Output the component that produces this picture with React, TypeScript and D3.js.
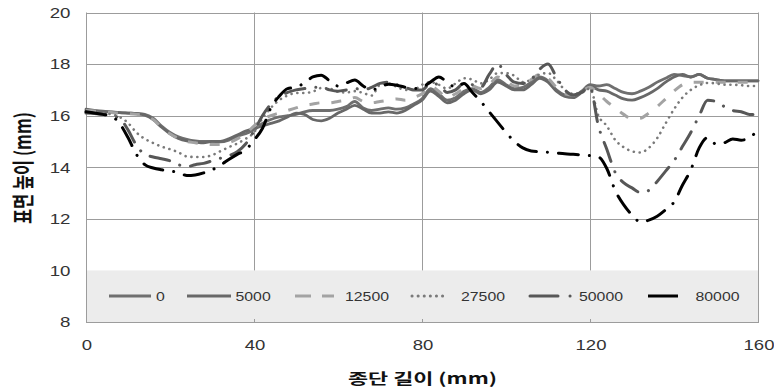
import React from "react";
import * as d3 from "d3";

// 종단 길이 (mm)
const distance = [
  0, 2, 4, 6, 8, 10, 12, 14, 16, 18, 20, 22, 24, 26, 28, 30, 32, 34, 36, 38,
  40, 42, 44, 46, 48, 50, 52, 54, 56, 58, 60, 62, 64, 66, 68, 70, 72, 74, 76, 78,
  80, 82, 84, 86, 88, 90, 92, 94, 96, 98, 100, 102, 104, 106, 108, 110, 112, 114, 116, 118,
  120, 122, 124, 126, 128, 130, 132, 134, 136, 138, 140, 142, 144, 146, 148, 150, 152, 154, 156, 158, 160,
];

// 표면 높이 (mm) per load cycle
const h0 = [
  16.2, 16.18, 16.16, 16.14, 16.12, 16.1, 16.08, 16.05, 15.9, 15.6,
  15.35, 15.18, 15.08, 15.02, 15.0, 15.0, 14.98, 15.05, 15.2, 15.3,
  15.45, 15.7, 15.85, 15.95, 16.0, 16.05, 16.15, 16.2, 16.2, 16.2,
  16.25, 16.35, 16.55, 16.3, 16.2, 16.25, 16.3, 16.25, 16.3, 16.45,
  16.65, 17.05, 16.85, 16.6, 16.7, 16.95, 17.05, 16.9, 17.1, 17.4,
  17.2, 17.05, 17.1, 17.3, 17.5, 17.35, 17.0, 16.8, 16.75, 16.95,
  17.2, 17.15, 17.2, 17.05, 16.9, 16.85, 16.95, 17.1, 17.3, 17.45,
  17.6, 17.55, 17.5, 17.6, 17.45, 17.4, 17.35, 17.35, 17.35, 17.35, 17.35,
];
const h5000 = [
  16.25, 16.2, 16.18, 16.15, 16.12, 16.1, 16.08, 16.02, 15.85, 15.55,
  15.3, 15.12, 15.02, 14.98, 14.95, 15.0, 15.0, 15.1, 15.25, 15.4,
  15.5, 15.6, 15.7, 15.8, 15.95, 16.1, 16.05, 15.85, 15.8, 15.9,
  16.1, 16.25, 16.4, 16.25, 16.1, 16.1, 16.15, 16.1, 16.2, 16.4,
  16.6, 16.95, 16.75, 16.5, 16.6, 16.85, 17.0, 16.85, 17.0, 17.3,
  17.15, 17.0, 17.0, 17.2, 17.45, 17.3, 16.95, 16.75, 16.7, 16.9,
  17.15, 17.0, 16.95, 16.8, 16.65, 16.6, 16.7, 16.85, 17.05, 17.3,
  17.5, 17.6, 17.5, 17.6, 17.45, 17.4, 17.35, 17.35, 17.35, 17.35, 17.35,
];
const h12500 = [
  16.2, 16.18, 16.15, 16.12, 16.1, 16.08, 16.05, 16.0, 15.85, 15.55,
  15.3, 15.12, 15.0, 14.95, 14.9, 14.88, 14.88, 14.95, 15.1, 15.3,
  15.6, 15.85, 16.0, 16.1, 16.2, 16.3, 16.4, 16.45, 16.5, 16.5,
  16.55, 16.6, 16.7, 16.55, 16.5, 16.55, 16.6, 16.65, 16.6, 16.7,
  16.85, 17.15, 16.95, 16.7, 16.85, 17.05, 17.15, 17.05, 17.2, 17.5,
  17.35, 17.15, 17.2, 17.4, 17.6, 17.45, 17.1, 16.85, 16.8, 16.95,
  17.1, 16.85, 16.55, 16.3, 16.05, 15.88, 15.9, 16.1, 16.35, 16.65,
  16.95, 17.2, 17.3, 17.3, 17.3, 17.3, 17.3, 17.3, 17.3, 17.3, 17.3,
];
const h27500 = [
  16.15, 16.12, 16.1, 16.05, 15.95, 15.72, 15.35, 15.1, 14.94, 14.8,
  14.7, 14.58, 14.42, 14.4, 14.4, 14.47, 14.62, 14.78, 14.92, 15.1,
  15.35, 15.9, 16.3, 16.6, 16.78, 16.88, 16.88, 16.93, 17.07, 17.05,
  16.93, 16.9, 16.95, 16.88, 16.78, 17.2, 17.25, 17.12, 17.0, 17.0,
  17.2, 17.3, 17.2, 17.05, 17.25, 17.45, 17.4, 17.25, 17.4, 17.65,
  17.65, 17.55, 17.3, 17.4, 17.6, 17.65, 17.38, 17.0, 16.85, 16.9,
  17.05, 16.0, 15.6, 15.06, 14.78, 14.62, 14.57, 14.75, 15.13, 15.7,
  16.25, 16.7, 17.0, 17.18, 17.27, 17.25, 17.2, 17.2, 17.18, 17.15, 17.15,
];
const h50000 = [
  16.1, 16.08, 16.05, 16.0, 15.9, 15.45, 14.85, 14.5, 14.4, 14.33,
  14.25, 14.1, 14.02, 14.1, 14.15, 14.25, 14.35, 14.45, 14.6, 14.9,
  15.4, 16.0, 16.45, 16.75, 16.9, 17.0, 17.05, 17.1, 17.1, 17.0,
  16.95, 17.0, 17.05, 17.0, 17.1, 17.25, 17.3, 17.2, 17.1, 17.0,
  17.0, 17.25, 17.2, 16.9, 17.0, 17.25, 17.2, 17.1, 17.6, 18.0,
  17.6, 17.3, 17.25, 17.4, 17.8, 18.0, 17.5, 17.0, 16.8, 16.9,
  17.1, 15.6, 14.7, 13.8, 13.4, 13.2, 13.02, 13.1, 13.45, 13.85,
  14.25, 14.8, 15.35, 16.0, 16.6, 16.55, 16.35, 16.2, 16.15, 16.05, 16.05,
];
const h80000 = [
  16.15, 16.1, 16.05, 15.98, 15.7, 15.15, 14.5, 14.1, 13.97, 13.9,
  13.85, 13.8, 13.68, 13.7, 13.78, 13.9, 14.08, 14.3, 14.5, 14.67,
  15.05, 15.5, 16.3, 16.75, 17.05, 17.1, 17.27, 17.5, 17.57, 17.35,
  17.15, 17.27, 17.38, 17.15, 17.0, 17.1, 17.22, 17.18, 17.1, 17.05,
  17.1, 17.3, 17.5, 17.3, 17.1, 17.25, 16.9, 16.55, 16.15, 15.75,
  15.35, 15.0, 14.75, 14.63, 14.6, 14.58, 14.55, 14.52, 14.5, 14.48,
  14.45, 14.4, 13.95, 13.1, 12.55, 12.15, 11.88, 11.95, 12.1, 12.35,
  12.65, 13.3, 13.9, 14.75, 15.15, 14.9, 14.95, 15.1, 15.05, 15.15, 15.45,
];

const seriesNames = ["0", "5000", "12500", "27500", "50000", "80000"];
const seriesValues = [h0, h5000, h12500, h27500, h50000, h80000];

const yTicks = [8, 10, 12, 14, 16, 18, 20];
const xTicks = [0, 40, 80, 120, 160];

const styles = [
  { color: "#6f6f6f", width: 2.8, dash: "none", cap: "round" },
  { color: "#686868", width: 2.8, dash: "none", cap: "round" },
  { color: "#a3a3a3", width: 3, dash: "10 12", cap: "butt" },
  { color: "#7a7a7a", width: 2.6, dash: "0.1 5.8", cap: "round" },
  { color: "#575757", width: 3, dash: "20 11 0.1 11", cap: "round" },
  { color: "#000000", width: 3, dash: "20 11 0.1 11", cap: "round" },
];

// legend layout: line start, line end, label start
const legendPos = [
  [109, 151, 156],
  [187, 231, 235.5],
  [295, 334, 345],
  [412, 448, 461],
  [530, 573, 579],
  [648, 678, 695.5],
];
const legendDash = ["none", "none", "16 11", "0.1 6", "28 12 0.1 12", "none"];

const FONT = "'Liberation Sans', Arial, sans-serif";
const KFONT = "'Noto Sans CJK KR', 'Noto Sans', sans-serif";

export default function App() {
  const x = d3.scaleLinear().domain([0, 160]).range([86, 758]);
  const y = d3.scaleLinear().domain([8, 20]).range([322, 12.5]);

  const line = d3
    .line<number>()
    .x((_, i) => x(distance[i]))
    .y((d) => y(d))
    .curve(d3.curveMonotoneX);

  const legendY = 296;

  return (
    <svg
      width={774}
      height={388}
      style={{ position: "absolute", left: 0, top: 0, background: "#fff" }}
    >
      {/* legend background */}
      <rect x={x(0)} y={y(10)} width={x(160) - x(0)} height={y(8) - y(10)} fill="#ececec" />

      {/* horizontal grid */}
      {yTicks
        .filter((t) => t > 10)
        .map((t) => (
          <line key={"gy" + t} x1={x(0)} x2={x(160)} y1={Math.round(y(t)) + 0.5} y2={Math.round(y(t)) + 0.5} stroke="#9c9c9c" strokeWidth={1} />
        ))}
      {/* vertical grid */}
      {xTicks
        .filter((t) => t > 0 && t < 160)
        .map((t) => (
          <line key={"gx" + t} x1={Math.round(x(t)) + 0.5} x2={Math.round(x(t)) + 0.5} y1={y(20)} y2={y(10)} stroke="#9c9c9c" strokeWidth={1} />
        ))}
      {/* frame */}
      <line x1={x(0) + 0.5} x2={x(0) + 0.5} y1={y(20)} y2={y(8)} stroke="#9c9c9c" />
      <line x1={x(160) + 0.5} x2={x(160) + 0.5} y1={y(20)} y2={y(8)} stroke="#9c9c9c" />
      <line x1={x(0)} x2={x(160) + 1} y1={y(8) + 0.5} y2={y(8) + 0.5} stroke="#9c9c9c" />
      {xTicks.map((t) => (
        <line key={"tk" + t} x1={Math.round(x(t)) + 0.5} x2={Math.round(x(t)) + 0.5} y1={y(8) - 3} y2={y(8)} stroke="#9c9c9c" />
      ))}

      {/* series */}
      {seriesValues.map((vals, i) => (
        <path
          key={seriesNames[i]}
          d={line(vals) || ""}
          fill="none"
          stroke={styles[i].color}
          strokeWidth={styles[i].width}
          strokeDasharray={styles[i].dash}
          strokeLinecap={styles[i].cap as any}
          strokeLinejoin="round"
        />
      ))}

      {/* legend */}
      {seriesNames.map((name, i) => {
        const [a, b, tx] = legendPos[i];
        const len = name.length * 8.8;
        return (
          <g key={"lg" + name}>
            <path
              d={`M${a},${legendY}L${b},${legendY}`}
              stroke={styles[i].color}
              strokeWidth={3}
              strokeDasharray={legendDash[i]}
              strokeLinecap={i === 3 || i === 4 ? "round" : "butt"}
              fill="none"
            />
            <text x={tx} y={legendY + 4.6} fontFamily={FONT} fontSize={13} fill="#333" textLength={len} lengthAdjust="spacingAndGlyphs">
              {name}
            </text>
          </g>
        );
      })}

      {/* y tick labels */}
      {yTicks.map((t) => {
        const s = String(t);
        const len = s.length * 10.4;
        return (
          <text key={"yl" + t} x={70.5 - len} y={y(t) + 5.4} fontFamily={FONT} fontSize={15} fill="#333" textLength={len} lengthAdjust="spacingAndGlyphs">
            {s}
          </text>
        );
      })}
      {/* x tick labels */}
      {xTicks.map((t) => {
        const s = String(t);
        const len = s.length * 10.3;
        return (
          <text key={"xl" + t} x={x(t) + 1 - len / 2} y={350} fontFamily={FONT} fontSize={15} fill="#333" textLength={len} lengthAdjust="spacingAndGlyphs">
            {s}
          </text>
        );
      })}

      {/* axis titles */}
      <text x={348} y={384} fontFamily={KFONT} fontWeight={700} fontSize={15} fill="#111" textLength={149} lengthAdjust="spacingAndGlyphs">
        종단 길이 (mm)
      </text>
      <g transform="translate(21,168) scale(1.3,1) rotate(-90)">
        <text x={-56} y={0} dominantBaseline="central" fontFamily={KFONT} fontWeight={700} fontSize={17} fill="#111" textLength={112} lengthAdjust="spacingAndGlyphs">
          표면 높이 (mm)
        </text>
      </g>
    </svg>
  );
}
